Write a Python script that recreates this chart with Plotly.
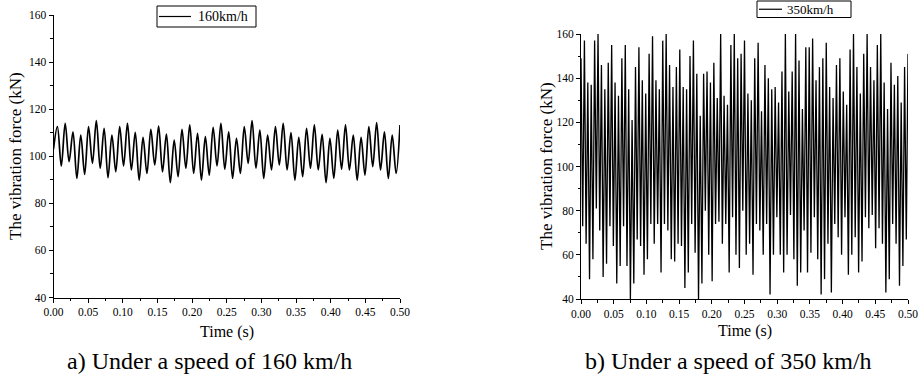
import numpy as np
import plotly.graph_objects as go

# ---------------- data ----------------
tick_vals_x = [0.00, 0.05, 0.10, 0.15, 0.20, 0.25, 0.30, 0.35, 0.40, 0.45, 0.50]
tick_text_x = ["0.00", "0.05", "0.10", "0.15", "0.20", "0.25", "0.30", "0.35", "0.40", "0.45", "0.50"]
tick_vals_y = [40, 60, 80, 100, 120, 140, 160]
series_names = ["160km/h", "350km/h"]

# 160 km/h : successive extrema of the vibration force (kN)
force_160 = [103, 112.6, 95.9, 114.0, 97.7, 110.4, 90.6, 109.0, 92.3, 112.6, 97.0, 115.1, 94.9,
             111.9, 90.9, 109.0, 93.4, 112.6, 95.9, 114.0, 94.2, 110.2, 89.9, 108.0, 92.7, 111.4,
             96.3, 112.8, 93.4, 109.4, 88.8, 106.9, 91.3, 111.4, 94.9, 113.3, 92.7, 109.7, 89.9,
             108.3, 92.0, 112.3, 95.9, 114.0, 94.5, 110.4, 90.6, 107.6, 92.7, 112.6, 97.0, 115.1,
             94.9, 111.1, 90.6, 109.0, 94.2, 112.6, 96.3, 114.0, 94.2, 110.0, 89.9, 108.0, 91.3,
             111.9, 94.9, 113.3, 94.2, 109.3, 88.8, 107.6, 90.6, 111.1, 94.5, 113.3, 94.2, 109.0,
             89.9, 108.0, 92.0, 112.6, 95.6, 114.3, 94.2, 110.4, 90.6, 109.0, 92.7, 113.3]

# 350 km/h : successive extrema of the vibration force (kN)
force_350_a = [149, 73, 157, 65, 138, 49, 137, 58, 157, 81, 160, 71, 146, 50, 135, 56, 147, 73, 155, 64,
               138, 47, 132, 55, 149, 73, 155, 55, 135, 40, 121, 47, 145, 67, 154, 64, 139, 51, 133, 58,
               151, 74, 159, 65, 139]
force_350_b = [74, 135, 52, 157, 74, 160, 71, 146, 58, 136, 57, 145, 65, 153, 64, 136, 45, 135, 52, 150,
               74, 157, 61, 142, 40, 123, 47, 142, 80, 143, 60, 138, 48, 147, 74, 131, 75, 160, 65, 132,
               74, 128, 52, 155, 77, 160, 60, 149, 54]
force_350_c = [151, 80, 157, 60, 133, 65, 130, 51, 149, 74, 156, 71, 125, 60, 146, 74, 140, 42, 135, 60,
               136, 77, 129, 60, 143, 52, 160, 60, 134, 78, 143, 58, 160, 46, 148, 52, 126, 71, 154, 52,
               154, 61, 158, 77, 139, 58, 145, 42]
force_350_d = [149, 49, 156, 65, 136, 43, 131, 74, 146, 68, 149, 60, 134, 77, 128, 51, 153, 60, 160, 68,
               145, 52, 133, 57, 151, 77, 160, 72, 145, 78, 139, 63, 155, 72, 160, 65, 138, 43, 126, 49,
               147, 74, 137, 65, 141, 46, 129, 55, 145, 67, 151]
force_350 = force_350_a + force_350_b + force_350_c + force_350_d

time_160 = np.linspace(0, 0.5, len(force_160))
time_350 = np.linspace(0, 0.5, len(force_350))

# ---------------- figure ----------------
W, H = 918, 376
FONT = "Liberation Serif"

fig = go.Figure()
fig.add_trace(go.Scatter(x=time_160, y=force_160, mode="lines", name=series_names[0],
                         line=dict(color="black", width=1.7, shape="spline", smoothing=1.0),
                         xaxis="x", yaxis="y", showlegend=False))
fig.add_trace(go.Scatter(x=time_350, y=force_350, mode="lines", name=series_names[1],
                         line=dict(color="black", width=1.3),
                         xaxis="x2", yaxis="y2", showlegend=False))


def xax(domain, anchor):
    return dict(domain=domain, anchor=anchor, range=[0, 0.5], tickvals=tick_vals_x, ticktext=tick_text_x,
                ticks="outside", ticklen=4, tickwidth=1, tickcolor="black",
                minor=dict(ticks="outside", ticklen=2.5, tickwidth=1, tickcolor="black", dtick=0.025, tick0=0),
                showline=True, linecolor="black", linewidth=1, showgrid=False, zeroline=False,
                automargin=False, ticklabeloverflow="allow",
                tickfont=dict(family=FONT, size=11.5, color="black"), fixedrange=True)


def yax(domain, anchor):
    return dict(domain=domain, anchor=anchor, range=[40, 160], tickvals=tick_vals_y,
                ticks="outside", ticklen=4, tickwidth=1, tickcolor="black",
                minor=dict(ticks="outside", ticklen=2.5, tickwidth=1, tickcolor="black", dtick=10, tick0=40),
                showline=True, linecolor="black", linewidth=1, showgrid=False, zeroline=False,
                automargin=False, ticklabeloverflow="allow",
                tickfont=dict(family=FONT, size=11.5, color="black"), fixedrange=True)


fig.update_layout(
    width=W, height=H,
    margin=dict(l=0, r=0, t=0, b=0, pad=0, autoexpand=False),
    paper_bgcolor="white", plot_bgcolor="white",
    xaxis=xax([53.5 / W, 400 / W], "y"),
    yaxis=yax([1 - 297.5 / H, 1 - 15 / H], "x"),
    xaxis2=xax([581 / W, 908 / W], "y2"),
    yaxis2=yax([1 - 299 / H, 1 - 34 / H], "x2"),
    showlegend=False,
)


def px(x):
    return x / W


def py(y):
    return 1 - y / H


# legend boxes (decoration) drawn in paper space
shapes = []
legend_specs = [
    # box x0, x1, y0, y1, line x0, x1, text x, name
    (157, 256, 6, 27, 159, 191, 196, series_names[0]),
    (757, 851, 1, 17.5, 759, 782, 785, series_names[1]),
]
ann = []
txt = dict(family=FONT, color="black")
for bx0, bx1, by0, by1, lx0, lx1, tx, nm in legend_specs:
    shapes.append(dict(type="rect", xref="paper", yref="paper", x0=px(bx0), x1=px(bx1),
                       y0=py(by1), y1=py(by0), line=dict(color="black", width=1), fillcolor="white"))
    ym = (by0 + by1) / 2
    shapes.append(dict(type="line", xref="paper", yref="paper", x0=px(lx0), x1=px(lx1),
                       y0=py(ym), y1=py(ym), line=dict(color="black", width=1.2)))
    ann.append(dict(text=nm, x=px(tx), y=py(ym), xref="paper", yref="paper", showarrow=False,
                    xanchor="left", yanchor="middle", font=dict(size=14 if by1 - by0 > 18 else 13, **txt)))

common = dict(xref="paper", yref="paper", showarrow=False, xanchor="center", yanchor="middle")
ann.append(dict(text="The vibration force (kN)", x=px(15), y=py(156), textangle=-90,
                font=dict(size=17, **txt), **common))
ann.append(dict(text="The vibration force (kN)", x=px(547), y=py(166), textangle=-90,
                font=dict(size=17, **txt), **common))
ann.append(dict(text="Time (s)", x=px(227), y=py(332), font=dict(size=16, **txt), **common))
ann.append(dict(text="Time (s)", x=px(745), y=py(331), font=dict(size=16, **txt), **common))
ann.append(dict(text="a) Under a speed of 160 km/h", x=px(209), y=py(361),
                font=dict(size=24, **txt), **common))
ann.append(dict(text="b) Under a speed of 350 km/h", x=px(728), y=py(361),
                font=dict(size=24, **txt), **common))
fig.update_layout(annotations=ann, shapes=shapes)

fig.write_html("out.html", config={"displayModeBar": False, "staticPlot": True},
               post_script="document.body.style.margin='0';document.body.style.padding='0';"
                           "document.body.style.overflow='hidden';")
